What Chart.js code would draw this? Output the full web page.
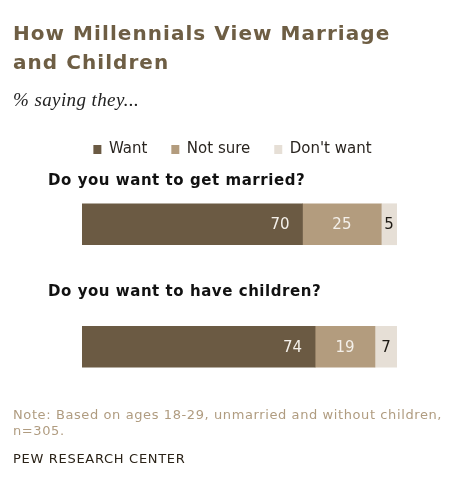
<!DOCTYPE html>
<html>
<head>
<meta charset="utf-8">
<script src="https://cdn.jsdelivr.net/npm/chart.js@4.4.0/dist/chart.umd.min.js"></script>
<style>
  html, body { margin: 0; padding: 0; background: #fff; }
  #wrap { position: relative; width: 456px; height: 490px; overflow: hidden; }
  #chart { position: absolute; left: 0; top: 0; }
  .txt { position: absolute; left: 13px; white-space: nowrap; font-family: "DejaVu Sans", Verdana, sans-serif; }
  #title { top: 19px; font-size: 20px; line-height: 29px; font-weight: bold; letter-spacing: 1.05px; color: #6e5e44; }
  #sub { top: 90px; font-family: "Liberation Serif", Georgia, serif; font-style: italic; font-size: 19px; letter-spacing: 0.4px; line-height: 1; color: #222; }
  .q { left: 48px; font-size: 15px; font-weight: bold; letter-spacing: 0.55px; line-height: 1; color: #111; }
  #note { top: 407px; font-size: 13px; line-height: 16px; letter-spacing: 0.6px; color: #b09c80; }
  #src { top: 452px; font-size: 13px; line-height: 1; letter-spacing: 0.7px; color: #2b2318; }
</style>
</head>
<body>
<div id="wrap">
  <canvas id="chart" width="456" height="490"></canvas>
  <div class="txt" id="title">How Millennials View Marriage<br>and Children</div>
  <div class="txt" id="sub">% saying they...</div>
  <div class="txt q" id="q0"></div>
  <div class="txt q" id="q1"></div>
  <div class="txt" id="note">Note: Based on ages 18-29, unmarried and without children,<br>n=305.</div>
  <div class="txt" id="src">PEW RESEARCH CENTER</div>
</div>
<script>
// data
const questions = ['Do you want to get married?', 'Do you want to have children?'];
const want = [70, 74];
const notSure = [25, 19];
const dontWant = [5, 7];

const questionTops = [173, 284];
questions.forEach((q, i) => {
    const el = document.getElementById('q' + i);
    el.textContent = q;
    el.style.top = questionTops[i] + 'px';
});

// value labels: first segment right aligned, the others centered
const valueLabels = {
    id: 'valueLabels',
    afterDatasetsDraw(chart) {
        const ctx = chart.ctx;
        ctx.save();
        ctx.font = '15px "DejaVu Sans", Verdana, sans-serif';
        ctx.textBaseline = 'middle';
        chart.data.datasets.forEach((ds, di) => {
            const meta = chart.getDatasetMeta(di);
            meta.data.forEach((bar, i) => {
                const v = ds.data[i];
                if (di === 0) {
                    ctx.textAlign = 'right';
                    ctx.fillStyle = '#f4f0ea';
                    ctx.fillText(v, bar.x - 13, bar.y + 1);
                } else {
                    ctx.textAlign = 'center';
                    ctx.fillStyle = di === 1 ? '#f4f0ea' : '#1e1a14';
                    ctx.fillText(v, (bar.x + bar.base) / 2, bar.y + 1);
                }
            });
        });
        ctx.restore();
    }
};

const hiddenAxis = (w) => ({
    grid: { display: false },
    border: { display: false },
    ticks: { display: false },
    afterFit(scale) { scale.width = w; }
});

new Chart(document.getElementById('chart'), {
    type: 'bar',
    data: {
        labels: questions,
        datasets: [
            { label: 'Want', data: want, backgroundColor: '#6b5a43' },
            { label: 'Not sure', data: notSure, backgroundColor: '#b39c7e' },
            { label: "Don't want", data: dontWant, backgroundColor: '#e6dfd6' }
        ]
    },
    options: {
        indexAxis: 'y',
        responsive: false,
        animation: false,
        devicePixelRatio: 1,
        layout: { padding: { left: 9, right: 0, top: 118, bottom: 82 } },
        datasets: { bar: { barThickness: 41, borderWidth: 0 } },
        scales: {
            x: { stacked: true, min: 0, max: 100, display: false },
            y: Object.assign({ stacked: true }, hiddenAxis(73)),
            y2: Object.assign({ type: 'category', position: 'right' }, hiddenAxis(59))
        },
        plugins: {
            legend: {
                position: 'top',
                maxHeight: 45,
                labels: {
                    boxWidth: 8,
                    boxHeight: 9,
                    padding: 24,
                    color: '#2a2520',
                    font: { family: '"DejaVu Sans", Verdana, sans-serif', size: 15 }
                }
            },
            tooltip: { enabled: false }
        }
    },
    plugins: [valueLabels]
});
</script>
</body>
</html>
